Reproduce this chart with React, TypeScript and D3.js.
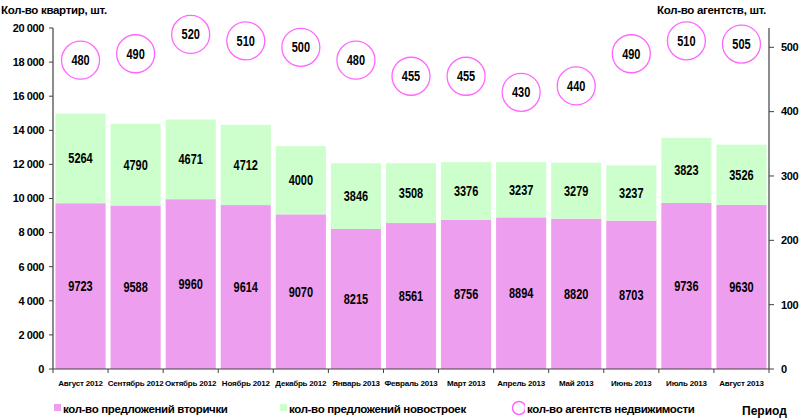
import React from "react";
import * as d3 from "d3";

const months = [
  "Август 2012", "Сентябрь 2012", "Октябрь 2012", "Ноябрь 2012", "Декабрь 2012",
  "Январь 2013", "Февраль 2013", "Март 2013", "Апрель 2013", "Май 2013",
  "Июнь 2013", "Июль 2013", "Август 2013",
];
const secondary = [9723, 9588, 9960, 9614, 9070, 8215, 8561, 8756, 8894, 8820, 8703, 9736, 9630];
const newBuild = [5264, 4790, 4671, 4712, 4000, 3846, 3508, 3376, 3237, 3279, 3237, 3823, 3526];
const agencies = [480, 490, 520, 510, 500, 480, 455, 455, 430, 440, 490, 510, 505];
const leftTicks = [0, 2000, 4000, 6000, 8000, 10000, 12000, 14000, 16000, 18000, 20000];
const rightTicks = [0, 100, 200, 300, 400, 500];

const PINK = "#EE9EEE";
const GREEN = "#CCFFCC";
const RING = "#FF66FF";
const AXIS = "#404040";
const SANS = "'Liberation Sans', Arial, sans-serif";

function Num({ x, y, v }: { x: number; y: number; v: number }) {
  const s = String(v);
  return (
    <text x={x} y={y} dy="0.36em" textAnchor="middle" fontFamily={SANS} fontWeight="bold" fontSize={14}
      textLength={s.length * 6.1} lengthAdjust="spacingAndGlyphs" fill="#000">{s}</text>
  );
}

export default function App() {
  const W = 800, H = 419;
  const x = d3.scaleBand<string>().domain(months).range([53, 769]).paddingInner(0.09).paddingOuter(0.045);
  const yL = d3.scaleLinear().domain([0, 20000]).range([369, 28]);
  const yR = d3.scaleLinear().domain([0, 530]).range([369, 28]);
  const fmt = (v: number) => d3.format(",")(v).replace(/,/g, " ");
  const step = x.step();
  const x0 = 53;
  const boundaries = d3.range(months.length + 1).map((i) => x0 + i * step);

  return (
    <svg width={W} height={H} style={{ position: "absolute", left: 0, top: 0, background: "#fff" }}>
      {/* bars */}
      {months.map((m, i) => {
        const bx = x(m)!;
        const bw = x.bandwidth();
        const top1 = yL(secondary[i]);
        const top2 = yL(secondary[i] + newBuild[i]);
        return (
          <g key={m}>
            <rect x={bx} y={top1} width={bw} height={yL(0) - top1} fill={PINK} />
            <rect x={bx} y={top2} width={bw} height={top1 - top2} fill={GREEN} />
            <Num x={bx + bw / 2} y={(top1 + yL(0)) / 2} v={secondary[i]} />
            <Num x={bx + bw / 2} y={(top1 + top2) / 2} v={newBuild[i]} />
          </g>
        );
      })}

      {/* bubbles */}
      {months.map((m, i) => {
        const cx = x(m)! + x.bandwidth() / 2;
        const cy = yR(agencies[i]);
        return (
          <g key={"b" + m}>
            <circle cx={cx} cy={cy} r={19} fill="#fff" stroke={RING} strokeWidth={1.3} />
            <Num x={cx} y={cy} v={agencies[i]} />
          </g>
        );
      })}

      {/* left axis */}
      <line x1={53} x2={53} y1={yL(20000)} y2={yL(0)} stroke={AXIS} strokeWidth={1.2} />
      {leftTicks.map((t) => (
        <g key={"l" + t}>
          <line x1={49} x2={53} y1={yL(t)} y2={yL(t)} stroke={AXIS} />
          <text x={44} y={yL(t)} dy="0.35em" textAnchor="end" fontFamily={SANS} fontWeight="bold" fontSize={11} letterSpacing={-0.4} fill="#000">{fmt(t)}</text>
        </g>
      ))}

      {/* right axis */}
      <line x1={769} x2={769} y1={yR(530)} y2={yR(0)} stroke={AXIS} strokeWidth={1.2} />
      {rightTicks.map((t) => (
        <g key={"r" + t}>
          <line x1={769} x2={774} y1={yR(t)} y2={yR(t)} stroke={AXIS} />
          <text x={781} y={yR(t)} dy="0.35em" textAnchor="start" fontFamily={SANS} fontWeight="bold" fontSize={11} letterSpacing={-0.4} fill="#000">{t}</text>
        </g>
      ))}

      {/* x axis */}
      <line x1={53} x2={769} y1={yL(0)} y2={yL(0)} stroke={AXIS} strokeWidth={1.2} />
      {boundaries.map((bx, i) => (
        <line key={"xt" + i} x1={bx} x2={bx} y1={yL(0)} y2={yL(0) + 4} stroke={AXIS} />
      ))}
      {months.map((m) => (
        <text key={"xl" + m} x={x(m)! + x.bandwidth() / 2} y={386} textAnchor="middle" fontFamily={SANS} fontWeight="bold" fontSize={8} letterSpacing={-0.2} fill="#000">{m}</text>
      ))}

      {/* titles */}
      <text x={1} y={14} fontFamily={SANS} fontWeight="bold" fontSize={11.5} letterSpacing={-0.3} fill="#000">Кол-во квартир, шт.</text>
      <text x={657} y={14} fontFamily={SANS} fontWeight="bold" fontSize={11.5} letterSpacing={-0.3} fill="#000">Кол-во агентств, шт.</text>
      <text x={742} y={415} fontFamily={SANS} fontWeight="bold" fontSize={12} fill="#000">Период</text>

      {/* legend */}
      <rect x={54} y={404} width={7} height={7} fill={PINK} />
      <text x={63} y={413} fontFamily={SANS} fontWeight="bold" fontSize={11.5} letterSpacing={-0.35} fill="#000">кол-во предложений  вторички</text>
      <rect x={280} y={404} width={7} height={7} fill={GREEN} />
      <text x={289} y={413} fontFamily={SANS} fontWeight="bold" fontSize={11.5} letterSpacing={-0.35} fill="#000">кол-во предложений  новостроек</text>
      <circle cx={519} cy={408} r={6.5} fill="none" stroke={RING} strokeWidth={1.5} />
      <rect x={525} y={399} width={4} height={16} fill="#fff" />
      <text x={527} y={413} fontFamily={SANS} fontWeight="bold" fontSize={11.5} letterSpacing={-0.35} fill="#000">кол-во агентств  недвижимости</text>
    </svg>
  );
}
